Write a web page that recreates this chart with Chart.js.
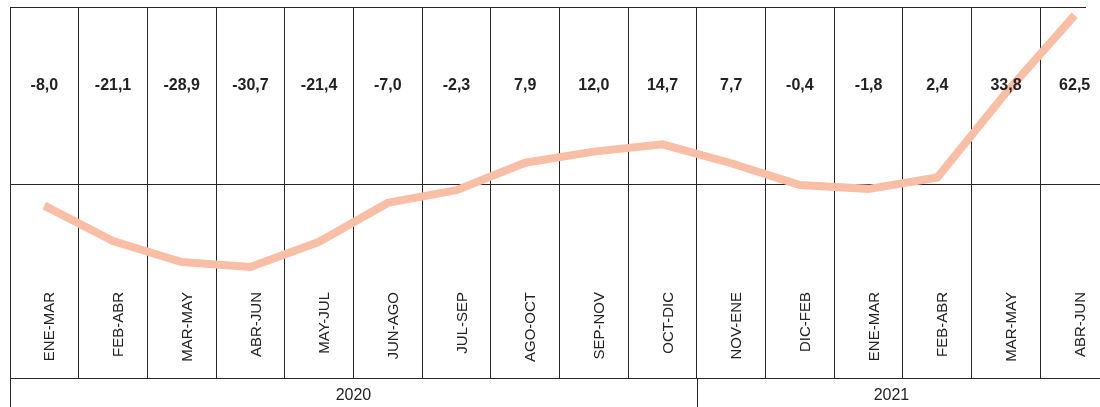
<!DOCTYPE html>
<html lang="es">
<head>
  <meta charset="UTF-8" />
  <title>Variación</title>
  <script src="https://cdn.jsdelivr.net/npm/chart.js"></script>
  <style>
    body {
      margin: 0;
      background: #fff;
      overflow: hidden;
    }
    canvas { display: block; }
  </style>
</head>
<body>
  <canvas id="chart" width="1120" height="407"></canvas>

  <script>
    // periodos móviles de tres meses
    const categories = ['ENE-MAR', 'FEB-ABR', 'MAR-MAY', 'ABR-JUN', 'MAY-JUL', 'JUN-AGO', 'JUL-SEP', 'AGO-OCT',
                        'SEP-NOV', 'OCT-DIC', 'NOV-ENE', 'DIC-FEB', 'ENE-MAR', 'FEB-ABR', 'MAR-MAY', 'ABR-JUN'];
    const values = [-8.0, -21.1, -28.9, -30.7, -21.4, -7.0, -2.3, 7.9, 12.0, 14.7, 7.7, -0.4, -1.8, 2.4, 33.8, 62.5];
    const years = ['2020', '2021'];
    const yearCounts = [10, 6];

    const lineColor = 'rgb(249,190,166)';
    const gridColor = '#262626';
    const tableRight = 1086;

    const tablePlugin = {
      id: 'table',
      afterDraw(chart) {
        const ctx = chart.ctx;
        const a = chart.chartArea;
        const x = chart.scales.x;
        const step = x.getPixelForValue(1) - x.getPixelForValue(0);
        ctx.save();
        ctx.strokeStyle = gridColor;
        ctx.lineWidth = 1;

        // borde superior
        ctx.beginPath();
        ctx.moveTo(a.left, Math.round(a.top) + 0.5);
        ctx.lineTo(tableRight, Math.round(a.top) + 0.5);
        ctx.stroke();

        // fila de años
        ctx.fillStyle = '#222';
        ctx.font = '16px "Liberation Sans", Arial, sans-serif';
        ctx.textAlign = 'center';
        ctx.textBaseline = 'middle';
        let start = 0;
        years.forEach((yr, k) => {
          const end = start + yearCounts[k];
          const x0 = x.getPixelForValue(start) - step / 2;
          const x1 = Math.min(x.getPixelForValue(end - 1) + step / 2, tableRight);
          const px = Math.round(x0) + 0.5;
          ctx.beginPath();
          ctx.moveTo(px, a.bottom);
          ctx.lineTo(px, chart.height);
          ctx.stroke();
          ctx.fillText(yr, (x0 + x1) / 2, 396);
          start = end;
        });

        // valores
        ctx.font = 'bold 16px "Liberation Sans", Arial, sans-serif';
        values.forEach((v, i) => {
          ctx.fillText(v.toFixed(1).replace('.', ','), x.getPixelForValue(i), 86);
        });

        // categorías en vertical
        ctx.font = '15px "Liberation Sans", Arial, sans-serif';
        ctx.textAlign = 'right';
        categories.forEach((c, i) => {
          ctx.save();
          ctx.translate(x.getPixelForValue(i) + 6, 292);
          ctx.rotate(-Math.PI / 2);
          ctx.fillText(c, 0, 0);
          ctx.restore();
        });
        ctx.restore();
      }
    };

    new Chart(document.getElementById('chart'), {
      type: 'line',
      data: {
        labels: categories,
        datasets: [{
          data: values,
          borderColor: lineColor,
          borderWidth: 8,
          borderJoinStyle: 'miter',
          pointRadius: 0,
          tension: 0
        }]
      },
      options: {
        responsive: false,
        animation: false,
        layout: { padding: { left: 10, top: 7, right: 11, bottom: 29 } },
        plugins: {
          legend: { display: false },
          tooltip: { enabled: false }
        },
        scales: {
          x: {
            offset: true,
            ticks: { display: false },
            grid: { offset: true, color: gridColor, drawTicks: false },
            border: { display: true, color: gridColor }
          },
          y: {
            min: -71.85,
            max: 65.56,
            afterBuildTicks: (scale) => { scale.ticks = [{ value: 0 }]; },
            ticks: { display: false },
            grid: { color: gridColor, drawTicks: false },
            border: { display: false }
          }
        }
      },
      plugins: [tablePlugin]
    });
  </script>
</body>
</html>
